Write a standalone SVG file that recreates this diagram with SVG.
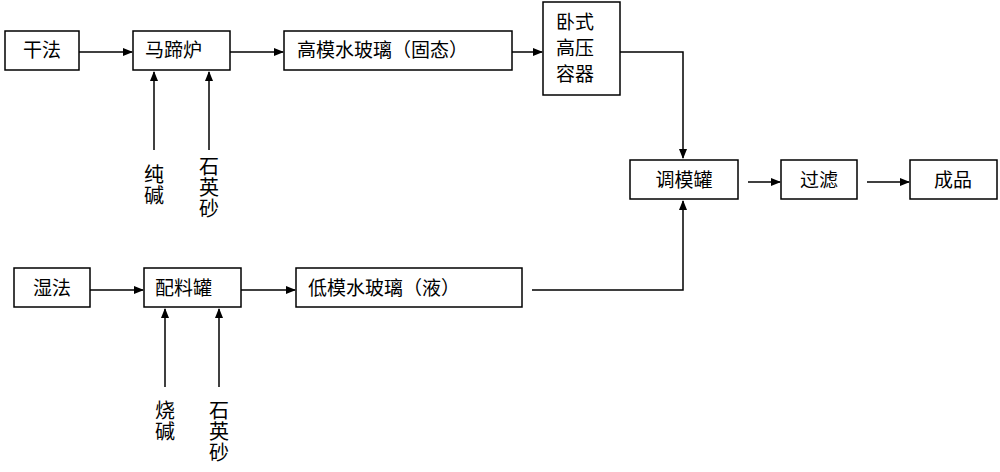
<svg xmlns="http://www.w3.org/2000/svg" width="1000" height="472" viewBox="0 0 1000 472">
<defs><marker id="a" markerWidth="10" markerHeight="8" refX="9" refY="4" orient="auto" markerUnits="userSpaceOnUse"><path d="M0,0 L10,4 L0,8 z" fill="#000"/></marker></defs>
<style>rect{fill:#fff;stroke:#000;stroke-width:1.5}text{font-family:"Noto Sans CJK SC",sans-serif;font-size:19px;fill:#000}.v{writing-mode:vertical-rl;font-size:20px;letter-spacing:1px}line,polyline{stroke:#000;stroke-width:1.5;fill:none;marker-end:url(#a)}</style>
<rect width="1000" height="472" style="stroke:none"/>
<g id="n1"><rect x="5" y="31" width="74" height="39"/><text x="42" y="57" text-anchor="middle">干法</text></g>
<g id="n2"><rect x="133" y="31" width="97" height="39"/><text x="145" y="57">马蹄炉</text></g>
<g id="n3"><rect x="284" y="31" width="228" height="39"/><text x="297" y="57">高模水玻璃（固态）</text></g>
<g id="n4"><rect x="543" y="2" width="77" height="93"/><text x="556" y="29">卧式</text><text x="556" y="55">高压</text><text x="556" y="81">容器</text></g>
<g id="n5"><rect x="630" y="160" width="108" height="39"/><text x="684" y="187" text-anchor="middle">调模罐</text></g>
<g id="n6"><rect x="781" y="160" width="76" height="39"/><text x="819" y="187" text-anchor="middle">过滤</text></g>
<g id="n7"><rect x="910" y="160" width="87" height="39"/><text x="953" y="187" text-anchor="middle">成品</text></g>
<g id="n8"><rect x="14" y="268" width="76" height="39"/><text x="52" y="295" text-anchor="middle">湿法</text></g>
<g id="n9"><rect x="144" y="268" width="97" height="39"/><text x="155" y="295">配料罐</text></g>
<g id="n10"><rect x="296" y="268" width="226" height="39"/><text x="308" y="295">低模水玻璃（液）</text></g>
<text class="v" x="154" y="164">纯碱</text>
<text class="v" x="209" y="156">石英砂</text>
<text class="v" x="165" y="400">烧碱</text>
<text class="v" x="219" y="400">石英砂</text>
<g id="connectors">
<line x1="79" y1="52" x2="132" y2="52"/>
<line x1="230" y1="52" x2="283" y2="52"/>
<line x1="512" y1="52" x2="542" y2="52"/>
<line x1="154" y1="150" x2="154" y2="72"/>
<line x1="209" y1="150" x2="209" y2="72"/>
<polyline points="620,52 683,52 683,158"/>
<line x1="748" y1="182" x2="780" y2="182"/>
<line x1="867" y1="182" x2="909" y2="182"/>
<line x1="90" y1="290" x2="143" y2="290"/>
<line x1="241" y1="290" x2="295" y2="290"/>
<line x1="165" y1="387" x2="165" y2="309"/>
<line x1="219" y1="387" x2="219" y2="309"/>
<polyline points="532,290 683,290 683,201"/>
</g>
</svg>
